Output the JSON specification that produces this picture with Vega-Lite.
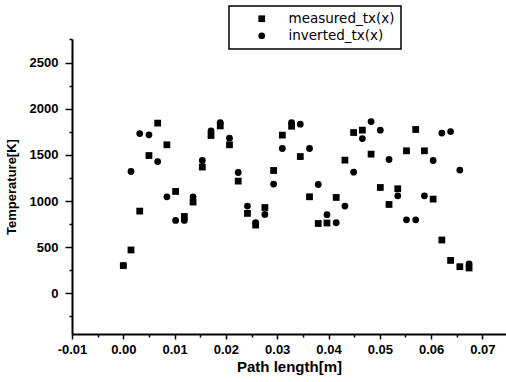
{
  "$schema": "https://vega.github.io/schema/vega-lite/v6.json",
  "width": 434,
  "height": 295,
  "autosize": {"type": "none"},
  "padding": {"left": 72, "top": 39, "right": 0, "bottom": 48},
  "background": "white",
  "config": {
    "view": {"stroke": null},
    "font": "Liberation Sans",
    "legend": {"strokeWidth": 1.5}
  },
  "data": {
    "values": [
      {"x": 0.0000, "T": 300, "s": "inverted_tx(x)"},
      {"x": 0.0015, "T": 1320, "s": "inverted_tx(x)"},
      {"x": 0.0032, "T": 1731, "s": "inverted_tx(x)"},
      {"x": 0.0050, "T": 1717, "s": "inverted_tx(x)"},
      {"x": 0.0067, "T": 1428, "s": "inverted_tx(x)"},
      {"x": 0.0085, "T": 1046, "s": "inverted_tx(x)"},
      {"x": 0.0102, "T": 790, "s": "inverted_tx(x)"},
      {"x": 0.0119, "T": 790, "s": "inverted_tx(x)"},
      {"x": 0.0136, "T": 1046, "s": "inverted_tx(x)"},
      {"x": 0.0154, "T": 1439, "s": "inverted_tx(x)"},
      {"x": 0.0171, "T": 1760, "s": "inverted_tx(x)"},
      {"x": 0.0189, "T": 1850, "s": "inverted_tx(x)"},
      {"x": 0.0207, "T": 1681, "s": "inverted_tx(x)"},
      {"x": 0.0224, "T": 1309, "s": "inverted_tx(x)"},
      {"x": 0.0242, "T": 946, "s": "inverted_tx(x)"},
      {"x": 0.0258, "T": 765, "s": "inverted_tx(x)"},
      {"x": 0.0276, "T": 855, "s": "inverted_tx(x)"},
      {"x": 0.0293, "T": 1184, "s": "inverted_tx(x)"},
      {"x": 0.0310, "T": 1569, "s": "inverted_tx(x)"},
      {"x": 0.0328, "T": 1850, "s": "inverted_tx(x)"},
      {"x": 0.0345, "T": 1833, "s": "inverted_tx(x)"},
      {"x": 0.0363, "T": 1569, "s": "inverted_tx(x)"},
      {"x": 0.0380, "T": 1179, "s": "inverted_tx(x)"},
      {"x": 0.0397, "T": 852, "s": "inverted_tx(x)"},
      {"x": 0.0415, "T": 765, "s": "inverted_tx(x)"},
      {"x": 0.0432, "T": 946, "s": "inverted_tx(x)"},
      {"x": 0.0449, "T": 1313, "s": "inverted_tx(x)"},
      {"x": 0.0466, "T": 1677, "s": "inverted_tx(x)"},
      {"x": 0.0483, "T": 1861, "s": "inverted_tx(x)"},
      {"x": 0.0501, "T": 1768, "s": "inverted_tx(x)"},
      {"x": 0.0518, "T": 1450, "s": "inverted_tx(x)"},
      {"x": 0.0535, "T": 1057, "s": "inverted_tx(x)"},
      {"x": 0.0552, "T": 797, "s": "inverted_tx(x)"},
      {"x": 0.0570, "T": 797, "s": "inverted_tx(x)"},
      {"x": 0.0587, "T": 1057, "s": "inverted_tx(x)"},
      {"x": 0.0604, "T": 1439, "s": "inverted_tx(x)"},
      {"x": 0.0621, "T": 1736, "s": "inverted_tx(x)"},
      {"x": 0.0638, "T": 1753, "s": "inverted_tx(x)"},
      {"x": 0.0656, "T": 1335, "s": "inverted_tx(x)"},
      {"x": 0.0674, "T": 318, "s": "inverted_tx(x)"},
      {"x": 0.0000, "T": 300, "s": "measured_tx(x)"},
      {"x": 0.0015, "T": 470, "s": "measured_tx(x)"},
      {"x": 0.0032, "T": 891, "s": "measured_tx(x)"},
      {"x": 0.0050, "T": 1493, "s": "measured_tx(x)"},
      {"x": 0.0067, "T": 1844, "s": "measured_tx(x)"},
      {"x": 0.0085, "T": 1609, "s": "measured_tx(x)"},
      {"x": 0.0102, "T": 1104, "s": "measured_tx(x)"},
      {"x": 0.0119, "T": 833, "s": "measured_tx(x)"},
      {"x": 0.0136, "T": 989, "s": "measured_tx(x)"},
      {"x": 0.0154, "T": 1368, "s": "measured_tx(x)"},
      {"x": 0.0171, "T": 1710, "s": "measured_tx(x)"},
      {"x": 0.0189, "T": 1814, "s": "measured_tx(x)"},
      {"x": 0.0207, "T": 1609, "s": "measured_tx(x)"},
      {"x": 0.0224, "T": 1216, "s": "measured_tx(x)"},
      {"x": 0.0242, "T": 866, "s": "measured_tx(x)"},
      {"x": 0.0258, "T": 740, "s": "measured_tx(x)"},
      {"x": 0.0276, "T": 930, "s": "measured_tx(x)"},
      {"x": 0.0293, "T": 1331, "s": "measured_tx(x)"},
      {"x": 0.0310, "T": 1714, "s": "measured_tx(x)"},
      {"x": 0.0328, "T": 1810, "s": "measured_tx(x)"},
      {"x": 0.0345, "T": 1482, "s": "measured_tx(x)"},
      {"x": 0.0363, "T": 1046, "s": "measured_tx(x)"},
      {"x": 0.0380, "T": 757, "s": "measured_tx(x)"},
      {"x": 0.0397, "T": 762, "s": "measured_tx(x)"},
      {"x": 0.0415, "T": 1039, "s": "measured_tx(x)"},
      {"x": 0.0432, "T": 1443, "s": "measured_tx(x)"},
      {"x": 0.0449, "T": 1742, "s": "measured_tx(x)"},
      {"x": 0.0466, "T": 1768, "s": "measured_tx(x)"},
      {"x": 0.0483, "T": 1508, "s": "measured_tx(x)"},
      {"x": 0.0501, "T": 1147, "s": "measured_tx(x)"},
      {"x": 0.0518, "T": 963, "s": "measured_tx(x)"},
      {"x": 0.0535, "T": 1133, "s": "measured_tx(x)"},
      {"x": 0.0552, "T": 1544, "s": "measured_tx(x)"},
      {"x": 0.0570, "T": 1775, "s": "measured_tx(x)"},
      {"x": 0.0587, "T": 1544, "s": "measured_tx(x)"},
      {"x": 0.0604, "T": 1021, "s": "measured_tx(x)"},
      {"x": 0.0621, "T": 578, "s": "measured_tx(x)"},
      {"x": 0.0638, "T": 357, "s": "measured_tx(x)"},
      {"x": 0.0656, "T": 289, "s": "measured_tx(x)"},
      {"x": 0.0674, "T": 275, "s": "measured_tx(x)"}
    ]
  },
  "mark": {"type": "point", "filled": true, "opacity": 1, "color": "black", "strokeWidth": 0, "size": 46},
  "encoding": {
    "x": {
      "field": "x",
      "type": "quantitative",
      "scale": {"domain": [-0.01, 0.0746], "nice": false, "zero": false},
      "axis": {
        "title": "Path length[m]",
        "values": [-0.01, -0.005, 0, 0.005, 0.01, 0.015, 0.02, 0.025, 0.03, 0.035, 0.04, 0.045, 0.05, 0.055, 0.06, 0.065, 0.07],
        "format": ".2f",
        "labelExpr": "abs(round(datum.value*200)) % 2 == 0 ? replace(datum.label, '\u2212', '-') : ''",
        "tickSize": {"condition": {"test": "abs(round(datum.value*200)) % 2 == 0", "value": 5}, "value": 3},
        "grid": false,
        "domainColor": "black",
        "domainWidth": 2,
        "tickColor": "black",
        "tickWidth": 1.5,
        "labelFont": "Liberation Sans",
        "labelFontWeight": "bold",
        "labelFontSize": 13,
        "labelColor": "black",
        "labelPadding": 4,
        "labelOverlap": false,
        "labelFlush": false,
        "titleFont": "Liberation Sans",
        "titleFontSize": 15,
        "titleFontWeight": "bold",
        "titleColor": "black",
        "titlePadding": 3
      }
    },
    "y": {
      "field": "T",
      "type": "quantitative",
      "scale": {"domain": [-440, 2755], "nice": false, "zero": false},
      "axis": {
        "title": "Temperature[K]",
        "values": [-250, 0, 250, 500, 750, 1000, 1250, 1500, 1750, 2000, 2250, 2500, 2750],
        "format": "d",
        "labelExpr": "datum.value % 500 == 0 ? datum.label : ''",
        "tickSize": {"condition": {"test": "datum.value % 500 == 0", "value": 7}, "value": 3},
        "grid": false,
        "domainColor": "black",
        "domainWidth": 2,
        "tickColor": "black",
        "tickWidth": 1.5,
        "labelFont": "Liberation Sans",
        "labelFontWeight": "bold",
        "labelFontSize": 13,
        "labelColor": "black",
        "labelPadding": 7,
        "labelOverlap": false,
        "labelFlush": false,
        "titleFont": "Liberation Sans",
        "titleFontSize": 13,
        "titleFontWeight": "bold",
        "titleColor": "black",
        "titlePadding": 11
      }
    },
    "shape": {
      "field": "s",
      "type": "nominal",
      "scale": {"domain": ["measured_tx(x)", "inverted_tx(x)"], "range": ["square", "circle"]},
      "legend": {
        "orient": "none",
        "legendX": 157,
        "legendY": -33,
        "title": null,
        "direction": "vertical",
        "padding": 6,
        "strokeColor": "black",
        "fillColor": "white",
        "symbolOffset": 20,
        "labelOffset": 20,
        "labelFontSize": 13.5,
        "labelFont": "DejaVu Sans",
        "labelColor": "black",
        "symbolSize": 45,
        "symbolFillColor": "black",
        "symbolStrokeWidth": 0,
        "rowPadding": 2
      }
    }
  }
}
